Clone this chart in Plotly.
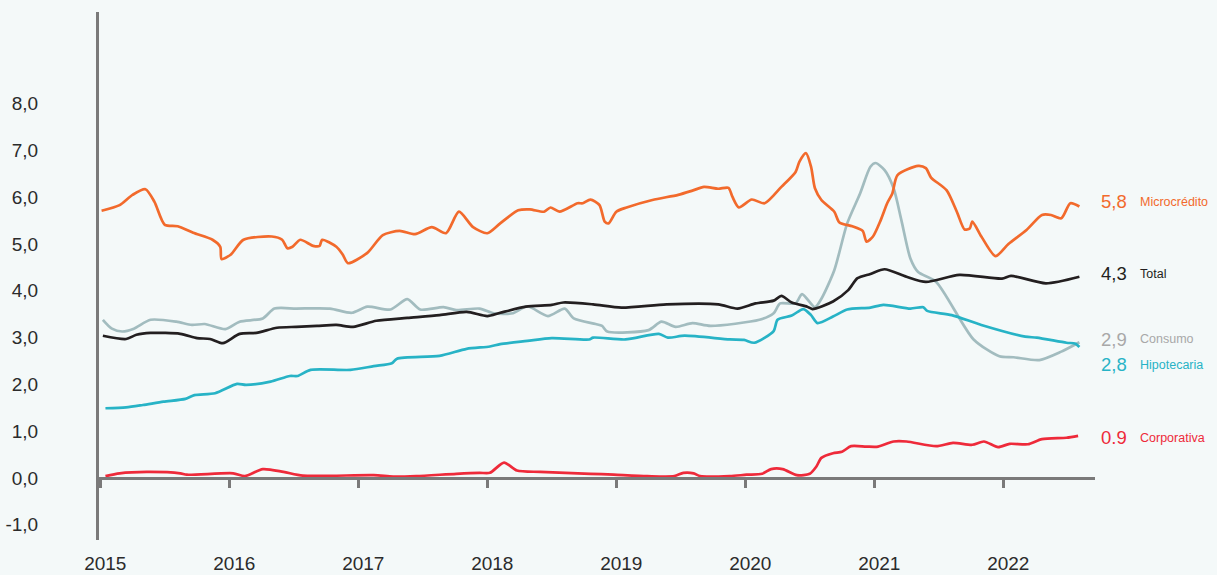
import plotly.graph_objects as go

# ---- data: morosidad por cartera (%), tiempo en años decimales ----
t_micro = [2015.01, 2015.15, 2015.25, 2015.35, 2015.42, 2015.50, 2015.60, 2015.72, 2015.87, 2015.93,
           2015.94, 2016.01, 2016.11, 2016.33, 2016.41, 2016.45, 2016.49, 2016.55, 2016.65, 2016.70,
           2016.72, 2016.83, 2016.88, 2016.92, 2017.07, 2017.19, 2017.32, 2017.44, 2017.57, 2017.68,
           2017.78, 2017.89, 2018.00, 2018.10, 2018.24, 2018.33, 2018.44, 2018.49, 2018.56, 2018.70,
           2018.74, 2018.80, 2018.87, 2018.91, 2018.94, 2019.00, 2019.08, 2019.28, 2019.48, 2019.59,
           2019.68, 2019.79, 2019.87, 2019.90, 2019.95, 2020.05, 2020.15, 2020.28, 2020.39, 2020.42,
           2020.47, 2020.51, 2020.54, 2020.59, 2020.69, 2020.73, 2020.83, 2020.91, 2020.94, 2020.99,
           2021.05, 2021.10, 2021.14, 2021.18, 2021.34, 2021.40, 2021.44, 2021.56, 2021.64, 2021.70,
           2021.74, 2021.76, 2021.83, 2021.94, 2022.04, 2022.18, 2022.30, 2022.37, 2022.45, 2022.52,
           2022.59]
v_micro = [5.71, 5.83, 6.05, 6.17, 5.90, 5.41, 5.38, 5.24, 5.09, 4.94,
           4.68, 4.77, 5.09, 5.16, 5.09, 4.91, 4.94, 5.09, 4.96, 4.96,
           5.09, 4.94, 4.77, 4.59, 4.81, 5.19, 5.28, 5.21, 5.36, 5.23,
           5.69, 5.36, 5.23, 5.44, 5.72, 5.74, 5.69, 5.78, 5.69, 5.87,
           5.87, 5.95, 5.83, 5.48, 5.44, 5.69, 5.78, 5.94, 6.05, 6.14,
           6.22, 6.18, 6.20, 6.01, 5.78, 5.95, 5.87, 6.22, 6.54, 6.76,
           6.94, 6.65, 6.19, 5.94, 5.69, 5.46, 5.38, 5.28, 5.05, 5.16,
           5.51, 5.87, 6.08, 6.47, 6.67, 6.62, 6.42, 6.15, 5.69, 5.31,
           5.33, 5.48, 5.16, 4.74, 5.00, 5.30, 5.62, 5.62, 5.55, 5.87,
           5.80]

t_total = [2015.02, 2015.20, 2015.28, 2015.39, 2015.62, 2015.75, 2015.85, 2015.95, 2016.08, 2016.21,
           2016.37, 2016.52, 2016.68, 2016.83, 2016.96, 2017.14, 2017.38, 2017.63, 2017.84, 2018.00,
           2018.10, 2018.30, 2018.50, 2018.59, 2018.82, 2019.04, 2019.39, 2019.79, 2019.94, 2020.08,
           2020.22, 2020.28, 2020.36, 2020.48, 2020.52, 2020.68, 2020.80, 2020.87, 2020.97, 2021.08,
           2021.25, 2021.40, 2021.66, 2021.99, 2022.06, 2022.33, 2022.59]
v_total = [3.04, 2.97, 3.06, 3.10, 3.08, 2.99, 2.97, 2.88, 3.08, 3.10,
           3.21, 3.23, 3.25, 3.27, 3.23, 3.36, 3.42, 3.48, 3.55, 3.46,
           3.53, 3.66, 3.70, 3.75, 3.71, 3.64, 3.71, 3.71, 3.62, 3.73,
           3.79, 3.89, 3.75, 3.66, 3.61, 3.77, 4.02, 4.27, 4.36, 4.46,
           4.30, 4.19, 4.34, 4.26, 4.32, 4.16, 4.30]

t_consumo = [2015.02, 2015.09, 2015.17, 2015.26, 2015.39, 2015.59, 2015.71, 2015.81, 2015.97, 2016.08,
             2016.26, 2016.35, 2016.52, 2016.78, 2016.95, 2017.07, 2017.25, 2017.38, 2017.48, 2017.66,
             2017.76, 2017.94, 2018.05, 2018.20, 2018.31, 2018.47, 2018.60, 2018.67, 2018.84, 2018.89,
             2018.93, 2019.25, 2019.35, 2019.46, 2019.59, 2019.73, 2020.11, 2020.22, 2020.27, 2020.39,
             2020.44, 2020.54, 2020.59, 2020.69, 2020.79, 2020.89, 2020.97, 2021.01, 2021.08, 2021.15,
             2021.21, 2021.28, 2021.34, 2021.48, 2021.77, 2021.97, 2022.08, 2022.28, 2022.45, 2022.59]
v_consumo = [3.38, 3.19, 3.13, 3.19, 3.38, 3.34, 3.27, 3.29, 3.18, 3.34,
             3.41, 3.62, 3.62, 3.62, 3.53, 3.66, 3.60, 3.82, 3.60, 3.65,
             3.59, 3.62, 3.52, 3.52, 3.67, 3.46, 3.62, 3.41, 3.29, 3.25,
             3.13, 3.16, 3.34, 3.23, 3.31, 3.25, 3.38, 3.52, 3.73, 3.73,
             3.93, 3.65, 3.83, 4.44, 5.44, 6.08, 6.65, 6.73, 6.58, 6.19,
             5.51, 4.69, 4.40, 4.19, 2.96, 2.60, 2.58, 2.52, 2.70, 2.90]

t_hipo = [2015.04, 2015.20, 2015.33, 2015.49, 2015.66, 2015.73, 2015.89, 2016.06, 2016.13, 2016.32,
          2016.47, 2016.53, 2016.63, 2016.94, 2017.12, 2017.26, 2017.30, 2017.63, 2017.84, 2018.02,
          2018.10, 2018.31, 2018.50, 2018.79, 2018.82, 2019.07, 2019.33, 2019.40, 2019.53, 2019.88,
          2019.99, 2020.07, 2020.22, 2020.25, 2020.36, 2020.45, 2020.51, 2020.56, 2020.68, 2020.79,
          2020.97, 2021.07, 2021.28, 2021.38, 2021.41, 2021.60, 2021.83, 2022.17, 2022.26, 2022.49,
          2022.56, 2022.59]
v_hipo = [1.49, 1.51, 1.56, 1.63, 1.69, 1.77, 1.81, 2.01, 1.99, 2.06,
          2.18, 2.18, 2.31, 2.31, 2.39, 2.45, 2.55, 2.61, 2.76, 2.81,
          2.86, 2.93, 2.99, 2.96, 3.00, 2.96, 3.08, 3.00, 3.04, 2.96,
          2.95, 2.89, 3.14, 3.38, 3.47, 3.61, 3.48, 3.31, 3.45, 3.60,
          3.64, 3.70, 3.62, 3.65, 3.57, 3.48, 3.27, 3.02, 3.00, 2.89,
          2.87, 2.80]

t_corp = [2015.04, 2015.15, 2015.36, 2015.62, 2015.67, 2016.03, 2016.12, 2016.26, 2016.42, 2016.57,
          2017.12, 2017.27, 2017.45, 2017.76, 2017.94, 2018.02, 2018.13, 2018.23, 2018.41, 2018.80,
          2018.98, 2019.24, 2019.45, 2019.52, 2019.60, 2019.65, 2019.88, 2020.01, 2020.13, 2020.20,
          2020.29, 2020.40, 2020.50, 2020.55, 2020.59, 2020.68, 2020.75, 2020.82, 2020.94, 2021.03,
          2021.15, 2021.25, 2021.48, 2021.61, 2021.76, 2021.85, 2021.96, 2022.05, 2022.19, 2022.30,
          2022.49, 2022.58]
v_corp = [0.04, 0.10, 0.13, 0.10, 0.07, 0.10, 0.04, 0.19, 0.13, 0.05,
          0.06, 0.03, 0.04, 0.09, 0.11, 0.11, 0.33, 0.16, 0.13, 0.09,
          0.07, 0.04, 0.04, 0.11, 0.10, 0.04, 0.04, 0.07, 0.09, 0.19,
          0.19, 0.06, 0.09, 0.24, 0.43, 0.53, 0.56, 0.68, 0.67, 0.67,
          0.78, 0.78, 0.68, 0.75, 0.71, 0.78, 0.66, 0.73, 0.72, 0.83,
          0.86, 0.90]

years = [2015, 2016, 2017, 2018, 2019, 2020, 2021, 2022]
y_ticks = [-1, 0, 1, 2, 3, 4, 5, 6, 7, 8]
y_ticktext = ["-1,0", "0,0", "1,0", "2,0", "3,0", "4,0", "5,0", "6,0", "7,0", "8,0"]

# ---- styling ----
BG = "#F4F9F9"
AXIS = "#7A7A7A"
FONT = "Liberation Sans, Arial, sans-serif"

# name, times, values, line colour, label colour, decimal separator, label nudge (px)
series = [
    ("Consumo", t_consumo, v_consumo, "#A2BCBF", "#A8A8A8", ",", 3),
    ("Hipotecaria", t_hipo, v_hipo, "#27B3C6", "#27B3C6", ",", -18),
    ("Total", t_total, v_total, "#231F20", "#231F20", ",", 3),
    ("Corporativa", t_corp, v_corp, "#EE2A3A", "#EE2A3A", ".", -2),
    ("Microcrédito", t_micro, v_micro, "#F26A2C", "#F26A2C", ",", 5),
]

fig = go.Figure()
for name, t, v, col, _, _, _ in series:
    fig.add_trace(go.Scatter(
        x=t, y=v, mode="lines", name=name,
        line=dict(color=col, width=2.7, shape="spline", smoothing=0.7),
        hoverinfo="skip",
    ))

# end-of-line value and series name
for name, t, v, col, lcol, sep, nudge in series:
    last = v[-1]
    fig.add_annotation(
        xref="paper", yref="y", x=1.0045, y=last, yshift=nudge,
        text=f"{last:.1f}".replace(".", sep), showarrow=False,
        xanchor="left", yanchor="middle",
        font=dict(family=FONT, size=18.5, color=lcol),
    )
    fig.add_annotation(
        xref="paper", yref="y", x=1.0435, y=last, yshift=nudge,
        text=name, showarrow=False, xanchor="left", yanchor="middle",
        font=dict(family=FONT, size=12.5, color=lcol),
    )

y_lo, y_hi = -1.325, 9.957
zero_pos = (0 - y_lo) / (y_hi - y_lo)

fig.update_layout(
    width=1217, height=575,
    margin=dict(l=99, r=122, t=12, b=35, autoexpand=False),
    paper_bgcolor=BG, plot_bgcolor=BG,
    showlegend=False,
    font=dict(family=FONT, size=19, color="#2B2B2B"),
    xaxis=dict(
        range=[2014.99, 2022.711], tickvals=years, ticktext=[str(y) for y in years],
        anchor="free", position=zero_pos, automargin=False,
        showline=True, linecolor=AXIS, linewidth=3,
        ticks="outside", ticklen=8, tickwidth=2.5, tickcolor=AXIS,
        showgrid=False, zeroline=False,
        ticklabelstandoff=59, ticklabelshift=5,
        tickfont=dict(family=FONT, size=19, color="#2B2B2B"),
    ),
    yaxis=dict(
        range=[y_lo, y_hi], tickvals=y_ticks, ticktext=y_ticktext,
        automargin=False,
        showline=True, linecolor=AXIS, linewidth=3,
        ticks="", showgrid=False, zeroline=False,
        ticklabelstandoff=54,
        tickfont=dict(family=FONT, size=19, color="#2B2B2B"),
    ),
)

fig.write_html("out.html")
